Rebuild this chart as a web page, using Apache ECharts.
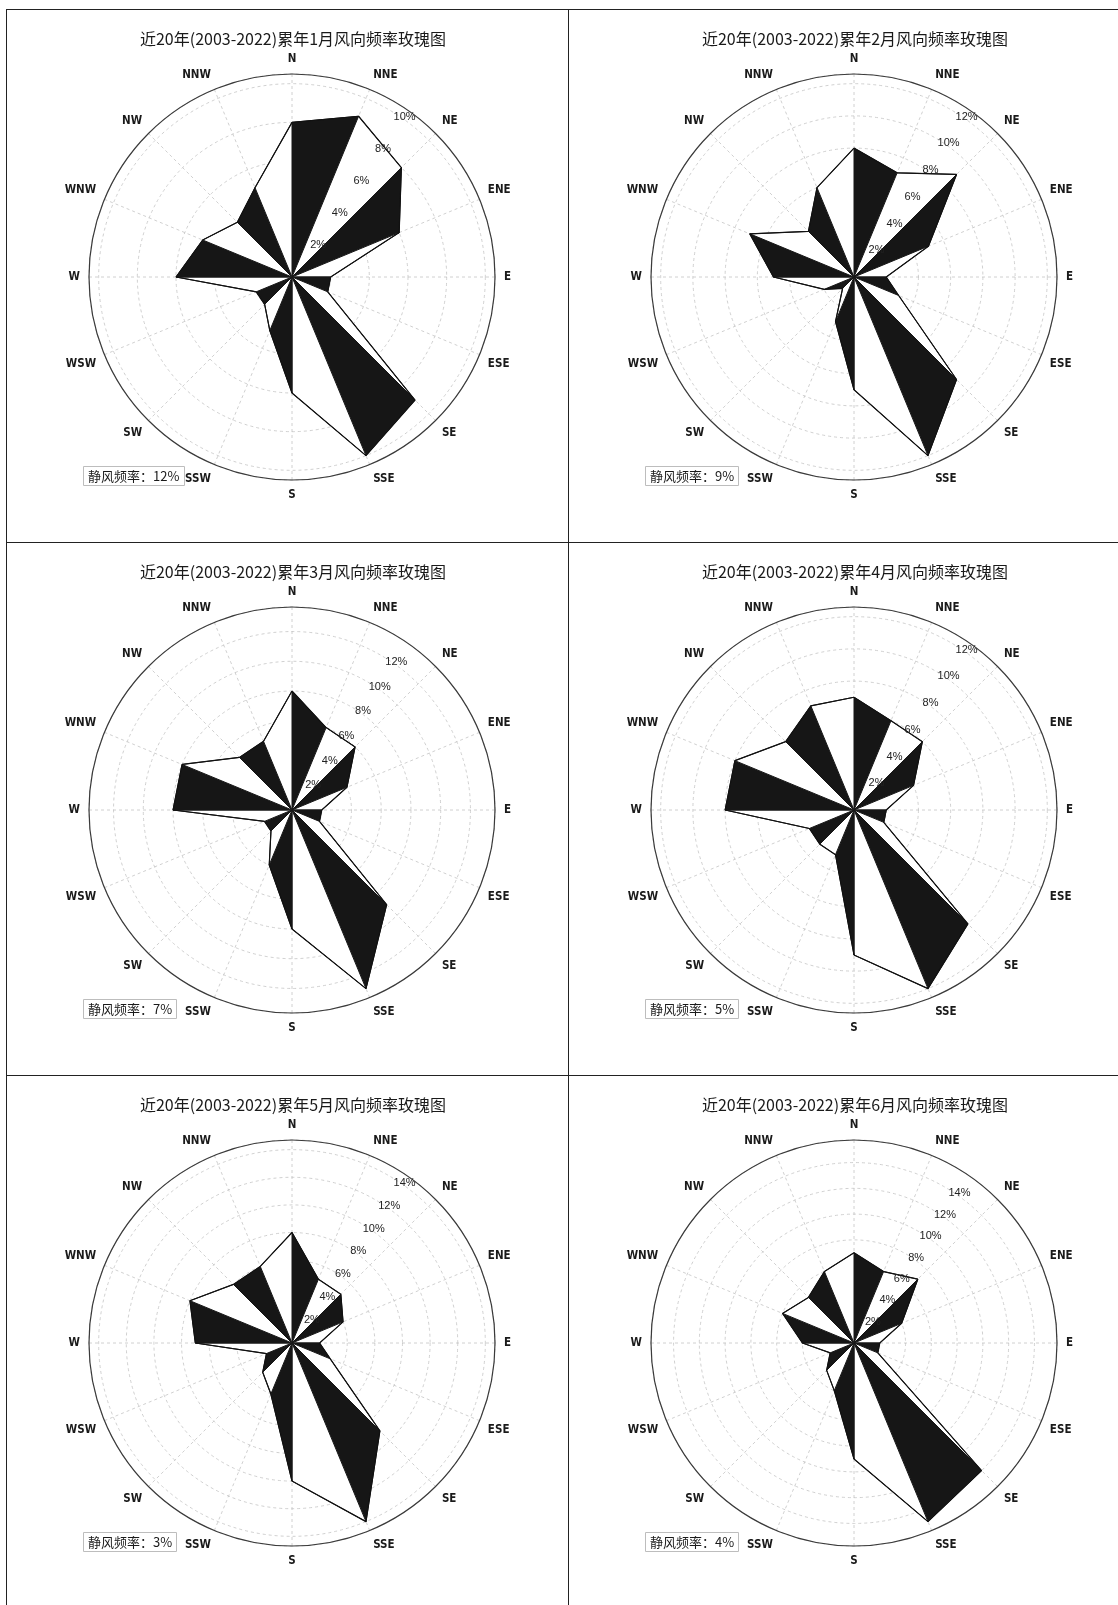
<!DOCTYPE html>
<html>
<head>
<meta charset="utf-8">
<title>风向频率玫瑰图</title>
<script src="https://cdn.jsdelivr.net/npm/echarts@6/dist/echarts.min.js"></script>
<style>
  body { margin: 0; background: #fff; width: 1118px; height: 1605px; overflow: hidden; }
  #board {
    position: absolute; left: 6px; top: 9px;
    display: grid;
    grid-template-columns: 562px 562px;
    grid-template-rows: 533px 533px 534px;
    border-top: 1.5px solid #222;
    border-left: 1.5px solid #222;
  }
  .cell { position: relative; box-sizing: border-box; border-right: 1.5px solid #222; border-bottom: 1.5px solid #222; }
  .chart { position: absolute; left: 0; top: 0; width: 572px; height: 531px; }
</style>
</head>
<body>
<div id="board">
  <div class="cell"><div class="chart" id="c0"></div></div>
  <div class="cell"><div class="chart" id="c1"></div></div>
  <div class="cell"><div class="chart" id="c2"></div></div>
  <div class="cell"><div class="chart" id="c3"></div></div>
  <div class="cell"><div class="chart" id="c4"></div></div>
  <div class="cell"><div class="chart" id="c5"></div></div>
</div>
<script>
// 16个风向，顺时针从北开始
var directions = ['N', 'NNE', 'NE', 'ENE', 'E', 'ESE', 'SE', 'SSE', 'S', 'SSW', 'SW', 'WSW', 'W', 'WNW', 'NW', 'NNW']

// 各月风向频率(%)
var jan = [8, 9, 8, 6, 2, 2, 9, 10, 6, 3, 2, 2, 6, 5, 4, 5]
var feb = [8, 7, 9, 5, 2, 3, 9, 12, 7, 3, 1, 2, 5, 7, 4, 6]
var mar = [8, 6, 6, 4, 2, 2, 9, 13, 8, 4, 2, 2, 8, 8, 5, 5]
var apr = [7, 6, 6, 4, 2, 2, 10, 12, 9, 3, 3, 3, 8, 8, 6, 7]
var may = [8, 5, 5, 4, 2, 3, 9, 14, 10, 4, 3, 2, 7, 8, 6, 6]
var jun = [7, 6, 7, 4, 2, 2, 14, 15, 9, 4, 3, 2, 4, 6, 5, 6]

// 静风频率(%)
var calm = [12, 9, 7, 5, 3, 4]
var months = ['1月', '2月', '3月', '4月', '5月', '6月']
var tickStep = 2 // 半径刻度间隔(%)

var monthData = [jan, feb, mar, apr, may, jun]

var cjkFont = '"Noto Sans CJK SC", sans-serif'
var dirStep = 360 / directions.length
var center = [285, 267]
var radius = 203

function buildOption(idx) {
  var values = monthData[idx]
  var rMax = Math.max.apply(null, values) * 1.05
  // 每个扇区: [方向角度, 本方向频率, 下一方向频率]
  var sectors = values.map(function(v, i) {
    return [i * dirStep, v, values[(i + 1) % values.length]]
  })
  var outline = values.map(function(v, i) { return [v, i * dirStep] })
  outline.push([values[0], 360])

  return {
    animation: false,
    title: [
      {
        text: '近20年(2003-2022)累年' + months[idx] + '风向频率玫瑰图',
        left: 'center',
        top: 21,
        padding: 0,
        textStyle: { fontFamily: cjkFont, fontSize: 16, fontWeight: 'normal', color: '#1a1a1a' }
      },
      {
        text: '静风频率：' + calm[idx] + '%',
        left: 76,
        top: 456,
        padding: [2, 5, 2, 5],
        borderColor: '#bdbdbd',
        borderWidth: 1,
        textStyle: { fontFamily: cjkFont, fontSize: 13, fontWeight: 'normal', color: '#1a1a1a', lineHeight: 16 }
      }
    ],
    polar: [
      { center: center, radius: radius },
      { center: center, radius: radius }
    ],
    angleAxis: [
      {
        polarIndex: 0,
        type: 'value',
        min: 0,
        max: 360,
        interval: dirStep,
        startAngle: 90,
        clockwise: true,
        axisLine: { lineStyle: { color: '#3a3a3a', width: 1.2 } },
        axisTick: { show: false },
        axisLabel: {
          margin: 9,
          color: '#1a1a1a',
          fontSize: 11.5,
          fontWeight: 'bold',
          fontFamily: '"Liberation Sans Narrow", "DejaVu Sans Condensed", "Liberation Sans", sans-serif',
          formatter: function(v) {
            var k = Math.round(v / dirStep)
            return k >= directions.length ? '' : directions[k]
          }
        },
        splitLine: { show: true, lineStyle: { color: '#c4c4c4', width: 0.8, type: [3, 3] } }
      },
      {
        polarIndex: 1,
        type: 'value',
        min: 0,
        max: 360,
        startAngle: 56,
        show: false
      }
    ],
    radiusAxis: [
      {
        polarIndex: 0,
        type: 'value',
        min: 0,
        max: rMax,
        interval: tickStep,
        axisLine: { show: false },
        axisTick: { show: false },
        axisLabel: { show: false },
        splitLine: { show: true, lineStyle: { color: '#c4c4c4', width: 0.8, type: [3, 3] } }
      },
      {
        polarIndex: 1,
        type: 'value',
        min: 0,
        max: rMax,
        interval: tickStep,
        z: 10,
        axisLine: { show: false },
        axisTick: { show: false },
        splitLine: { show: false },
        axisLabel: {
          margin: 0,
          align: 'center',
          verticalAlign: 'middle',
          padding: [0, 0, 15, 9],
          color: '#222',
          fontSize: 11,
          fontFamily: '"Liberation Sans", sans-serif',
          formatter: function(v) {
            return (v > 0 && Math.abs(v % tickStep) < 1e-9) ? v + '%' : ''
          }
        }
      }
    ],
    series: [
      {
        type: 'custom',
        coordinateSystem: 'polar',
        polarIndex: 0,
        encode: { radius: 1, angle: 0 },
        data: sectors,
        renderItem: function(params, api) {
          var a = api.value(0)
          var i = Math.round(a / dirStep)
          var c = api.coord([0, a])
          var p1 = api.coord([api.value(1), a])
          var p2 = api.coord([api.value(2), a + dirStep])
          return {
            type: 'polygon',
            shape: { points: [c, p1, p2] },
            style: {
              fill: i % 2 === 0 ? '#161616' : '#ffffff',
              stroke: '#161616',
              lineWidth: 1,
              lineJoin: 'round'
            }
          }
        }
      },
      {
        type: 'line',
        coordinateSystem: 'polar',
        polarIndex: 0,
        data: outline,
        symbol: 'none',
        silent: true,
        lineStyle: { color: '#111', width: 1.2 },
        z: 3
      }
    ]
  }
}

for (var k = 0; k < 6; k++) {
  var chart = echarts.init(document.getElementById('c' + k), null, { renderer: 'canvas' })
  chart.setOption(buildOption(k))
}
</script>
</body>
</html>
